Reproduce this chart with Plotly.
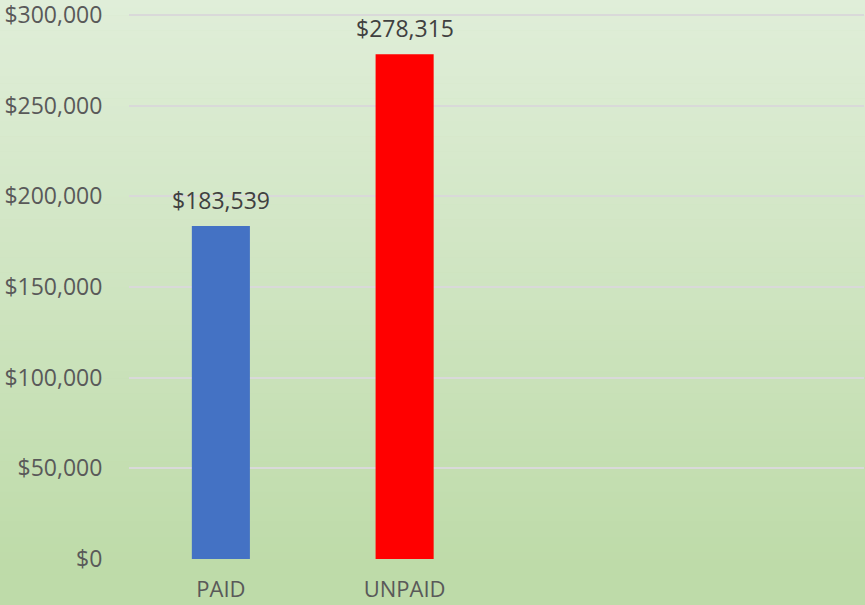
import plotly.graph_objects as go

categories = ["PAID", "UNPAID"]
values = [183539, 278315]
bar_colors = ["#4472C4", "#FF0000"]
tick_vals = [0, 50000, 100000, 150000, 200000, 250000, 300000]
tick_text = ["$0", "$50,000", "$100,000", "$150,000", "$200,000", "$250,000", "$300,000"]

W, H = 865, 605
ml, mr, mt, mb = 129, 1, 13, 46

fig = go.Figure()
fig.add_trace(go.Bar(
    x=categories, y=values,
    marker=dict(color=bar_colors, line=dict(width=0)),
    width=0.316,
    hoverinfo="x+y",
))

for c, v in zip(categories, values):
    fig.add_annotation(x=c, y=v, text=f"${v:,}", showarrow=False,
                       xanchor="center", yanchor="bottom", yshift=8,
                       font=dict(family="Open Sans", size=23, color="#404040"))

# vertical gradient background (stripes in paper coords)
def lerp(c1, c2, t):
    return tuple(round(a + (b - a) * t) for a, b in zip(c1, c2))

top = (0xE0, 0xEE, 0xD9)
bot = (0xBE, 0xDB, 0xA9)
shapes = []
n = 80
ph = H - mt - mb
pw = W - ml - mr
for i in range(n):
    y0px = H * i / n - (0.5 if i == 0 else 0)
    y1px = H * (i + 1) / n + 0.5
    t = min(1.0, (y0px + y1px) / 2 / 565)
    col = lerp(top, bot, t)
    py0 = (H - mb - y1px) / ph
    py1 = (H - mb - y0px + (2 if i == 0 else 0)) / ph
    shapes.append(dict(type="rect", xref="paper", yref="paper",
                       x0=-ml / pw - 0.01, x1=1 + mr / pw + 0.01,
                       y0=py0, y1=py1, line=dict(width=0),
                       fillcolor="rgb(%d,%d,%d)" % col, layer="below"))

fig.update_layout(
    width=W, height=H,
    margin=dict(l=ml, r=mr, t=mt, b=mb, autoexpand=False),
    paper_bgcolor="#C4DFB0",
    plot_bgcolor="rgba(0,0,0,0)",
    shapes=shapes,
    showlegend=False,
    font=dict(family="Open Sans", color="#595959"),
    xaxis=dict(
        type="category",
        categoryorder="array", categoryarray=categories + [" ", "  "],
        range=[-0.5, 3.5],
        showgrid=False, zeroline=False, showline=False,
        ticks="outside", ticklen=11, tickcolor="rgba(0,0,0,0)",
        tickfont=dict(family="Open Sans", size=22, color="#595959"),
        ticklabeloverflow="allow",
        automargin=False,
    ),
    yaxis=dict(
        range=[0, 301000],
        tickvals=tick_vals, ticktext=tick_text,
        showgrid=True, gridcolor="#D9D9D9", gridwidth=1.5,
        zeroline=False, showline=False,
        ticks="outside", ticklen=21, tickcolor="rgba(0,0,0,0)",
        tickfont=dict(family="Open Sans", size=23, color="#595959"),
        ticklabeloverflow="allow",
        automargin=False,
    ),
)

fig.write_html("out.html", config={"displayModeBar": False},
               post_script="document.body.style.margin='0';document.body.style.overflow='hidden';")
